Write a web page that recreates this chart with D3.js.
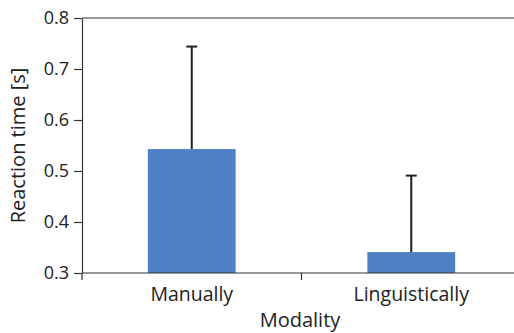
<!DOCTYPE html>
<html>
<head>
<meta charset="utf-8">
<script src="https://cdn.jsdelivr.net/npm/d3@7"></script>
<style>
  html, body { margin: 0; padding: 0; background: #fff; }
  svg { display: block; font-family: "Open Sans", sans-serif; }
</style>
</head>
<body>
<svg id="chart" width="514" height="333"></svg>
<script>
// Mean reaction time per modality, with upper error bar
const categories = ["Manually", "Linguistically"];
const means = [0.543, 0.341];
const upper = [0.744, 0.491];
const yTicks = [0.3, 0.4, 0.5, 0.6, 0.7, 0.8];

const svg = d3.select("#chart");
const plotLeft = 82, plotRight = 521, plotTop = 18, plotBottom = 273;
const ink = "#222";

const x = d3.scaleBand().domain(categories).range([plotLeft, plotRight]).paddingInner(0).paddingOuter(0);
const y = d3.scaleLinear().domain([0.3, 0.8]).range([plotBottom, plotTop]);
const barW = x.bandwidth() * 0.4;

// top border
svg.append("line")
  .attr("x1", plotLeft).attr("x2", 514).attr("y1", y(0.8)).attr("y2", y(0.8))
  .attr("stroke", "#333").attr("stroke-width", 1.2);

// bars
svg.selectAll("rect.bar").data(categories).join("rect")
  .attr("class", "bar")
  .attr("x", d => x(d) + (x.bandwidth() - barW) / 2)
  .attr("width", barW)
  .attr("y", (d, i) => y(means[i]))
  .attr("height", (d, i) => y(0.3) - y(means[i]))
  .attr("fill", "#4e81c3");

// error bars
const eb = svg.selectAll("g.err").data(categories).join("g").attr("class", "err");
eb.append("line")
  .attr("x1", d => x(d) + x.bandwidth() / 2).attr("x2", d => x(d) + x.bandwidth() / 2)
  .attr("y1", (d, i) => y(means[i])).attr("y2", (d, i) => y(upper[i]))
  .attr("stroke", ink).attr("stroke-width", 2);
eb.append("line")
  .attr("x1", d => x(d) + x.bandwidth() / 2 - 5.5).attr("x2", d => x(d) + x.bandwidth() / 2 + 5.5)
  .attr("y1", (d, i) => y(upper[i])).attr("y2", (d, i) => y(upper[i]))
  .attr("stroke", ink).attr("stroke-width", 2);

// y axis
const yAxis = svg.append("g")
  .attr("transform", `translate(${plotLeft},0)`)
  .call(d3.axisLeft(y).tickValues(yTicks).tickFormat(d3.format(".1f")).tickSize(8).tickSizeOuter(0).tickPadding(5));
yAxis.select(".domain").attr("stroke", "#333").attr("stroke-width", 1.2);
yAxis.selectAll(".tick line").attr("stroke", "#333").attr("stroke-width", 1.2);
yAxis.selectAll(".tick text").attr("font-size", 18).attr("fill", ink)
  .attr("font-family", "'Open Sans', sans-serif");

// x axis line with category boundary ticks
svg.append("line")
  .attr("x1", plotLeft).attr("x2", 514).attr("y1", plotBottom).attr("y2", plotBottom)
  .attr("stroke", "#333").attr("stroke-width", 1.2);
const bounds = [x(categories[0]), x(categories[1])];
svg.selectAll("line.xb").data(bounds).join("line")
  .attr("class", "xb")
  .attr("x1", d => d).attr("x2", d => d)
  .attr("y1", plotBottom).attr("y2", plotBottom + 7)
  .attr("stroke", "#333").attr("stroke-width", 1.2);

svg.selectAll("text.cat").data(categories).join("text")
  .attr("class", "cat")
  .attr("x", d => x(d) + x.bandwidth() / 2)
  .attr("y", 301)
  .attr("text-anchor", "middle")
  .attr("font-size", 19.5)
  .attr("fill", ink)
  .text(d => d);

// axis titles
svg.append("text")
  .attr("x", 300).attr("y", 327)
  .attr("text-anchor", "middle")
  .attr("font-size", 20).attr("fill", ink)
  .text("Modality");

svg.append("text")
  .attr("transform", `translate(25,${(plotTop + plotBottom) / 2}) rotate(-90)`)
  .attr("text-anchor", "middle")
  .attr("font-size", 20).attr("fill", ink)
  .text("Reaction time [s]");
</script>
</body>
</html>
